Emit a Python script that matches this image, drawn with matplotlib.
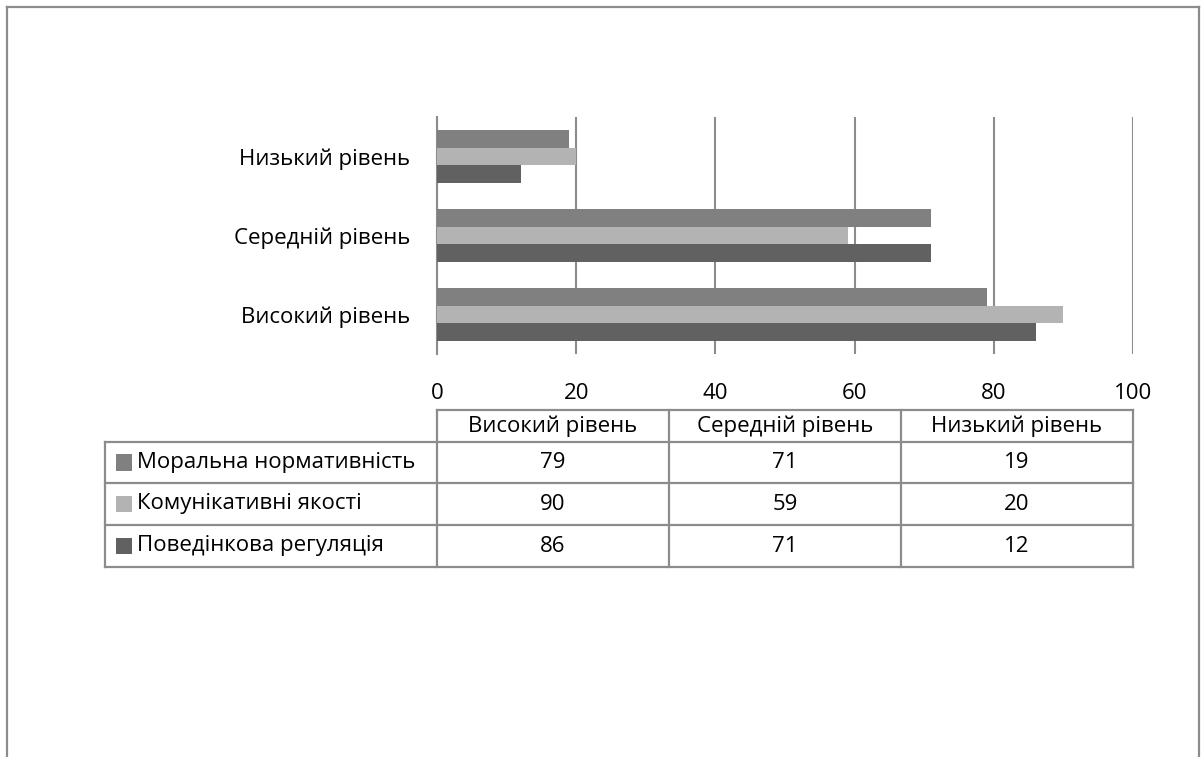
import matplotlib
matplotlib.use("Agg")
import matplotlib.pyplot as plt
from matplotlib.lines import Line2D
from matplotlib.patches import Rectangle

plt.rcParams['font.family'] = ['Open Sans', 'DejaVu Sans']

categories = ["Високий рівень", "Середній рівень", "Низький рівень"]
series_names = ["Моральна нормативність", "Комунікативні якості", "Поведінкова регуляція"]
moral = [79, 71, 19]
komun = [90, 59, 20]
povedin = [86, 71, 12]
series_values = [moral, komun, povedin]
series_colors = ["#808080", "#b3b3b3", "#616161"]
xticks = [0, 20, 40, 60, 80, 100]

W, H = 1201, 757
fig = plt.figure(figsize=(W / 100, H / 100), dpi=100)

def fx(px):
    return px / W

def fy(py):
    return 1 - py / H

FS = 16
grid_c = "#8c8c8c"

# axes region in pixels
ax_l, ax_r, ax_t, ax_b = 437, 1133, 117, 354
ax = fig.add_axes([fx(ax_l), fy(ax_b), fx(ax_r) - fx(ax_l), fy(ax_t) - fy(ax_b)])

h = 0.22
offsets = [h, 0, -h]
ypos = list(range(len(categories)))
for vals, off, col in zip(series_values, offsets, series_colors):
    ax.barh([y + off for y in ypos], vals, height=h, color=col, zorder=3)

ax.set_xlim(0, 100)
ax.set_ylim(-0.5, len(categories) - 0.5)
ax.set_xticks(xticks)
ax.set_xticklabels([str(t) for t in xticks], fontsize=FS)
ax.set_yticks(ypos)
ax.set_yticklabels(categories, fontsize=FS)
ax.tick_params(axis='x', length=0, pad=21)
ax.tick_params(axis='y', length=0, pad=19)
ax.xaxis.grid(True, color=grid_c, linewidth=1.5, zorder=0)
for s in ['top', 'right', 'bottom']:
    ax.spines[s].set_visible(False)
ax.spines['left'].set_color(grid_c)
ax.spines['left'].set_linewidth(1.5)
ax.set_facecolor('none')

# figure border
def line(x0, y0, x1, y1, lw=1.6, c=grid_c):
    fig.add_artist(Line2D([fx(x0), fx(x1)], [fy(y0), fy(y1)], color=c, linewidth=lw,
                          transform=fig.transFigure))

line(7, 7, 1199, 7)
line(7, 7, 7, 757)
line(1199, 7, 1199, 757)

# data table
col_edges = [437, 669, 901, 1133]
label_l = 105
row_edges = [410, 442, 483, 525, 567]
tc = "#8c8c8c"
line(col_edges[0], row_edges[0], col_edges[-1], row_edges[0], c=tc)
for x in col_edges:
    line(x, row_edges[0], x, row_edges[-1], c=tc)
line(label_l, row_edges[1], label_l, row_edges[-1], c=tc)
for yv in row_edges[1:]:
    line(label_l, yv, col_edges[-1], yv, c=tc)

for i, cat in enumerate(categories):
    cx = (col_edges[i] + col_edges[i + 1]) / 2
    cy = (row_edges[0] + row_edges[1]) / 2
    fig.text(fx(cx), fy(cy), cat, ha='center', va='center', fontsize=FS)

for r, (name, vals, col) in enumerate(zip(series_names, series_values, series_colors)):
    cy = (row_edges[r + 1] + row_edges[r + 2]) / 2
    fig.add_artist(Rectangle((fx(116), fy(cy + 8)), fx(132) - fx(116), fy(cy - 8) - fy(cy + 8),
                             facecolor=col, edgecolor='none', transform=fig.transFigure))
    fig.text(fx(137), fy(cy), name, ha='left', va='center', fontsize=FS)
    for i, v in enumerate(vals):
        cx = (col_edges[i] + col_edges[i + 1]) / 2
        fig.text(fx(cx), fy(cy), str(v), ha='center', va='center', fontsize=FS)

fig.savefig("out.png", dpi=100)
